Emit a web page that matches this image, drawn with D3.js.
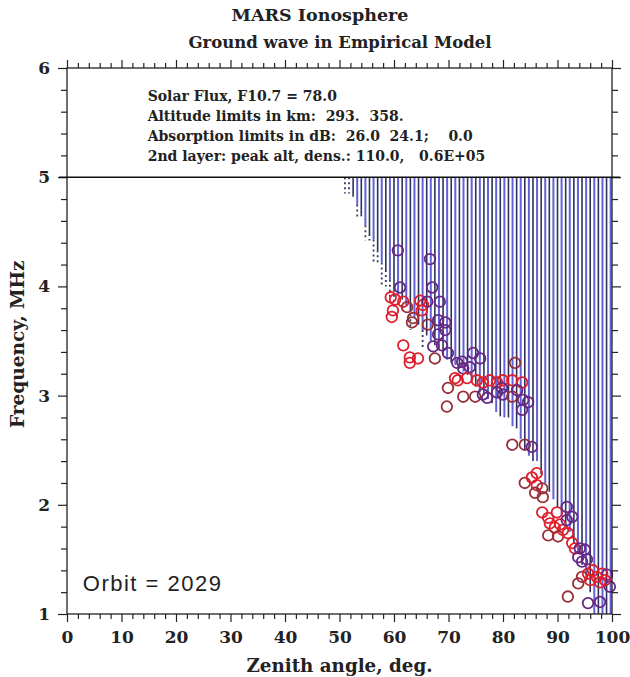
<!DOCTYPE html>
<html>
<head>
<meta charset="utf-8">
<script src="https://cdn.jsdelivr.net/npm/d3@7"></script>
<style>
  body { margin: 0; background: #fff; }
  text { font-family: "DejaVu Serif", serif; fill: #222; }
  .info { white-space: pre; }
</style>
</head>
<body>
<div id="chart"></div>
<script>
// tick labels
var xTicks = [0, 10, 20, 30, 40, 50, 60, 70, 80, 90, 100];
var xMinor = [2, 4, 6, 8, 12, 14, 16, 18, 22, 24, 26, 28, 32, 34, 36, 38, 42, 44, 46, 48,
  52, 54, 56, 58, 62, 64, 66, 68, 72, 74, 76, 78, 82, 84, 86, 88, 92, 94, 96, 98];
var yTicks = [1, 2, 3, 4, 5, 6];
var yMinor = [1.2, 1.4, 1.6, 1.8, 2.2, 2.4, 2.6, 2.8, 3.2, 3.4, 3.6, 3.8, 4.2, 4.4, 4.6, 4.8, 5.2, 5.4, 5.6, 5.8];

// model ground-wave lines: zenith angle, lower solid end, lower dotted end (MHz)
var barAngle = [51, 51.75, 52.5, 53.25, 54, 54.75, 55.5, 56.25, 57, 57.75, 58.5, 59.25, 60, 60.75,
  61.5, 62.25, 63, 63.75, 64.5, 65.25, 66, 66.75, 67.5, 68.25, 69, 69.75, 70.5, 71.25, 72, 72.75,
  73.5, 74.25, 75, 75.75, 76.5, 77.25, 78, 78.75, 79.5, 80.25, 81, 81.75, 82.5, 83.25, 84, 84.75,
  85.5, 86.25, 87, 87.75, 88.5, 89.25, 90, 90.75, 91.5, 92.25, 93, 93.75, 94.5, 95.25, 96, 96.75,
  97.5, 98.25, 99, 99.75];
var barLow = [5.0, 5.0, 4.82, 4.75, 4.66, 4.56, 4.48, 4.43, 4.33, 4.22, 4.15, 4.06, 3.97, 3.92,
  3.88, 3.83, 3.79, 3.71, 3.65, 3.6, 3.55, 3.5, 3.46, 3.42, 3.37, 3.33, 3.3, 3.28, 3.25, 3.22,
  3.19, 3.14, 3.08, 3.03, 3.0, 2.97, 2.93, 2.85, 2.81, 2.8, 2.8, 2.72, 2.7, 2.6, 2.5, 2.45,
  2.4, 2.4, 2.28, 2.2, 2.12, 2.05, 1.98, 1.9, 1.82, 1.75, 1.65, 1.55, 1.45, 1.35, 1.2, 1.0,
  1.0, 1.0, 1.0, 1.0];
var barDot = [4.85, 4.85, 4.82, 4.63, 4.63, 4.42, 4.42, 4.22, 4.22, 4.0, 4.0, 3.88, 3.8, 3.92,
  3.88, 3.83, 3.6, 3.71, 3.65, 3.42, 3.55, 3.5, 3.46, 3.42, 3.37, 3.33, 3.3, 3.28, 3.25, 3.22,
  3.19, 3.14, 3.08, 3.03, 3.0, 2.97, 2.93, 2.85, 2.81, 2.8, 2.8, 2.72, 2.7, 2.6, 2.5, 2.45,
  2.4, 2.4, 2.28, 2.2, 2.12, 2.05, 1.98, 1.9, 1.82, 1.75, 1.65, 1.55, 1.45, 1.35, 1.2, 1.0,
  1.0, 1.0, 1.0, 1.0];

// observed echoes: zenith angle, frequency, colour class (0 red, 1 dark red, 2 purple)
var obsAngle = [60.7, 66.6, 61.1, 67.0, 59.4, 60.2, 59.8, 61.7, 62.4, 59.6, 63.3, 64.8, 65.3, 66.1,
  65.1, 63.5, 66.2, 68.4, 68.1, 69.4, 69.4, 68.1, 68.8, 61.7, 67.2, 62.9, 64.4, 62.9, 67.5, 69.9,
  71.6, 72.5, 74.5, 75.8, 72.7, 73.9, 71.2, 71.7, 73.4, 75.2, 76.3, 77.6, 78.9, 80.0, 81.7, 83.5,
  82.2, 69.9, 72.7, 74.9, 76.3, 77.1, 78.9, 79.8, 80.0, 81.7, 82.6, 83.7, 84.6, 83.5, 69.7, 81.7,
  84.0, 85.3, 86.2, 84.0, 85.3, 86.2, 87.2, 85.9, 87.3, 87.2, 88.3, 89.9, 91.7, 92.7, 88.6, 89.5,
  90.5, 91.0, 88.3, 90.1, 91.7, 91.9, 92.7, 93.2, 94.1, 93.8, 95.0, 94.5, 95.4, 94.5, 95.6, 96.5,
  97.2, 98.2, 99.1, 98.7, 99.6, 96.0, 93.8, 97.8, 91.9, 95.6, 97.8];
var obsFreq = [4.33, 4.25, 3.99, 3.99, 3.90, 3.88, 3.78, 3.86, 3.81, 3.72, 3.67, 3.87, 3.83, 3.86,
  3.78, 3.71, 3.65, 3.86, 3.69, 3.67, 3.60, 3.56, 3.46, 3.46, 3.45, 3.35, 3.34, 3.30, 3.34, 3.39,
  3.30, 3.31, 3.39, 3.34, 3.25, 3.26, 3.16, 3.14, 3.16, 3.14, 3.12, 3.14, 3.12, 3.14, 3.14, 3.12,
  3.30, 3.07, 2.99, 2.99, 3.01, 2.98, 3.03, 3.07, 3.01, 2.99, 3.05, 2.96, 2.94, 2.87, 2.90, 2.55,
  2.55, 2.53, 2.29, 2.20, 2.25, 2.18, 2.15, 2.11, 2.07, 1.93, 1.88, 1.93, 1.98, 1.89, 1.83, 1.79,
  1.82, 1.77, 1.72, 1.71, 1.86, 1.74, 1.65, 1.60, 1.60, 1.52, 1.59, 1.48, 1.50, 1.34, 1.37, 1.40,
  1.34, 1.37, 1.36, 1.31, 1.25, 1.31, 1.28, 1.29, 1.16, 1.10, 1.11];
var obsClass = [2, 2, 2, 2, 0, 0, 0, 0, 1, 0, 1, 0, 0, 2,
  0, 1, 1, 2, 2, 2, 2, 2, 2, 0, 2, 0, 0, 0, 1, 2,
  2, 2, 2, 2, 2, 2, 0, 0, 0, 0, 0, 0, 0, 0, 0, 0,
  1, 1, 1, 1, 2, 2, 2, 2, 2, 1, 2, 2, 2, 2, 1, 1,
  1, 2, 0, 1, 0, 0, 1, 1, 1, 0, 0, 0, 2, 2, 0, 0,
  0, 0, 1, 1, 2, 0, 0, 0, 2, 2, 2, 2, 2, 1, 0, 0,
  0, 0, 2, 0, 2, 0, 1, 0, 1, 2, 2];
var classColor = ["#e01f2c", "#983038", "#662884"];

var infoLines = [
  "Solar Flux, F10.7 = 78.0",
  "Altitude limits in km:  293.  358.",
  "Absorption limits in dB:  26.0  24.1;    0.0",
  "2nd layer: peak alt, dens.: 110.0,   0.6E+05"
];

var svgWidth = 630, svgHeight = 677;
var margin = { top: 68, right: 18, bottom: 63, left: 67 };
var width = svgWidth - margin.left - margin.right;
var height = svgHeight - margin.top - margin.bottom;

var svg = d3.select("#chart").append("svg")
  .attr("width", svgWidth)
  .attr("height", svgHeight);

var chartGroup = svg.append("g")
  .attr("transform", `translate(${margin.left}, ${margin.top})`);

var x = d3.scaleLinear().domain([0, 100]).range([0, width]);
var y = d3.scaleLinear().domain([1, 6]).range([height, 0]);

// vertical model lines
barAngle.forEach(function(a, i) {
  var col = i % 2 === 0 ? "#30305a" : "#6262d8";
  if (barLow[i] < 5) {
    chartGroup.append("line")
      .attr("x1", x(a)).attr("x2", x(a))
      .attr("y1", y(5)).attr("y2", y(barLow[i]))
      .attr("stroke", col)
      .attr("stroke-width", i % 2 === 0 ? 1.6 : 2);
  }
  if (barDot[i] < barLow[i]) {
    chartGroup.append("line")
      .attr("x1", x(a)).attr("x2", x(a))
      .attr("y1", y(barLow[i])).attr("y2", y(barDot[i]))
      .attr("stroke", "#2e3a6a")
      .attr("stroke-width", 1.8)
      .attr("stroke-dasharray", "2,3");
  }
});

// observed points
var pts = obsAngle.map(function(a, i) {
  return { a: a, f: obsFreq[i], c: obsClass[i] };
});
chartGroup.selectAll("circle")
  .data(pts)
  .enter()
  .append("circle")
  .attr("cx", d => x(d.a))
  .attr("cy", d => y(d.f))
  .attr("r", 5.3)
  .attr("fill", "none")
  .attr("stroke", d => classColor[d.c])
  .attr("stroke-width", 1.8);

// axes
function styleAxis(g) {
  g.select(".domain").remove();
  g.selectAll("line").attr("stroke", "#222").attr("stroke-width", 1.2);
}
chartGroup.append("g").attr("transform", `translate(0, ${height})`)
  .call(d3.axisBottom(x).tickValues(xMinor).tickSize(5).tickFormat(""))
  .call(styleAxis);
chartGroup.append("g").attr("transform", `translate(0, ${height})`)
  .call(d3.axisBottom(x).tickValues(xTicks).tickSize(8).tickPadding(9).tickFormat(d3.format("d")))
  .call(styleAxis)
  .selectAll("text").attr("font-size", 17).attr("font-weight", "bold")
  .attr("font-family", "DejaVu Serif").attr("fill", "#222");
chartGroup.append("g")
  .call(d3.axisTop(x).tickValues(xMinor).tickSize(5).tickFormat(""))
  .call(styleAxis);
chartGroup.append("g")
  .call(d3.axisTop(x).tickValues(xTicks).tickSize(8).tickFormat(""))
  .call(styleAxis);
chartGroup.append("g")
  .call(d3.axisLeft(y).tickValues(yMinor).tickSize(6).tickFormat(""))
  .call(styleAxis);
chartGroup.append("g")
  .call(d3.axisLeft(y).tickValues(yTicks).tickSize(9).tickPadding(8).tickFormat(d3.format("d")))
  .call(styleAxis)
  .selectAll("text").attr("font-size", 17).attr("font-weight", "bold")
  .attr("font-family", "DejaVu Serif").attr("fill", "#222");
chartGroup.append("g").attr("transform", `translate(${width}, 0)`)
  .call(d3.axisRight(y).tickValues(yMinor).tickSize(6).tickFormat(""))
  .call(styleAxis);
chartGroup.append("g").attr("transform", `translate(${width}, 0)`)
  .call(d3.axisRight(y).tickValues(yTicks).tickSize(9).tickFormat(""))
  .call(styleAxis);

// frame
chartGroup.append("rect")
  .attr("width", width).attr("height", height)
  .attr("fill", "none").attr("stroke", "#222").attr("stroke-width", 1.3);
chartGroup.append("line")
  .attr("x1", -8).attr("x2", width + 8)
  .attr("y1", y(5)).attr("y2", y(5))
  .attr("stroke", "#111").attr("stroke-width", 1.5);

// info text box
chartGroup.selectAll(".info")
  .data(infoLines)
  .enter()
  .append("text")
  .attr("class", "info")
  .attr("x", x(14.8))
  .attr("y", (d, i) => y(5.7) + i * 20)
  .attr("font-size", 14)
  .attr("font-weight", "bold")
  .text(d => d);

// titles
svg.append("text")
  .attr("x", 320).attr("y", 21)
  .attr("text-anchor", "middle")
  .attr("font-size", 17.5)
  .attr("font-weight", "bold")
  .text("MARS Ionosphere");
svg.append("text")
  .attr("x", 340).attr("y", 48)
  .attr("text-anchor", "middle")
  .attr("font-size", 16.5)
  .attr("font-weight", "bold")
  .text("Ground wave in Empirical Model");

svg.append("text")
  .attr("x", margin.left + width / 2).attr("y", 672)
  .attr("text-anchor", "middle")
  .attr("font-size", 18.3)
  .attr("font-weight", "bold")
  .text("Zenith angle, deg.");

svg.append("text")
  .attr("transform", `translate(24, ${margin.top + y(3.47)}) rotate(-90)`)
  .attr("text-anchor", "middle")
  .attr("font-size", 18.5)
  .attr("font-weight", "bold")
  .text("Frequency, MHz");

chartGroup.append("text")
  .attr("x", x(2.9)).attr("y", y(1.215))
  .style("font-family", "'Liberation Sans', Arial, sans-serif")
  .style("letter-spacing", "1.5px")
  .attr("font-size", 22)
  .text("Orbit = 2029");
</script>
</body>
</html>
